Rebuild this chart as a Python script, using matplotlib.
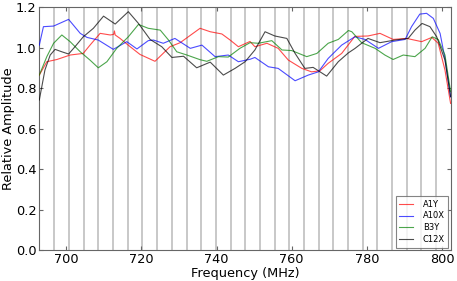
import numpy as np
import matplotlib
matplotlib.use('Agg')
import matplotlib.pyplot as plt

# readings, frequency in MHz
a1y_f = [692.8, 694.8, 697.5, 701.0, 704.5, 706.3, 709.0, 711.7, 712.6, 712.8, 713.0, 714.3, 717.0,
         719.6, 723.6, 727.6, 730.3, 735.6, 738.3, 741.4, 743.6, 745.8, 748.9, 750.2, 753.4,
         756.4, 759.1, 762.7, 765.3, 767.5, 769.7, 773.3, 776.8, 780.3, 783.5, 787.0, 790.6,
         794.6, 797.3, 799.0, 800.8, 802.3]
a1y = [0.864, 0.930, 0.941, 0.963, 0.971, 1.012, 1.070, 1.062, 1.065, 1.082, 1.062, 1.045, 1.004,
       0.966, 0.932, 1.004, 1.024, 1.095, 1.078, 1.067, 1.037, 1.004, 1.030, 1.004, 1.021,
       0.996, 0.938, 0.897, 0.880, 0.885, 0.922, 0.971, 1.055, 1.057, 1.070, 1.040, 1.045,
       1.029, 1.050, 1.021, 0.889, 0.724]

a10x_f = [692.8, 693.9, 696.6, 700.6, 703.7, 705.5, 708.5, 712.5, 716.1, 718.8, 721.8, 723.2,
          725.8, 728.9, 733.0, 736.1, 739.6, 743.1, 745.8, 748.9, 750.2, 753.8, 756.4, 760.9,
          764.4, 767.1, 769.7, 773.3, 776.8, 779.5, 783.1, 786.6, 790.2, 791.9, 794.1, 795.9,
          797.7, 799.5, 800.8, 802.3]
a10x = [1.012, 1.103, 1.106, 1.139, 1.070, 1.050, 1.037, 0.991, 1.029, 0.993, 1.034, 1.037,
        1.021, 1.045, 0.996, 1.012, 0.955, 0.963, 0.930, 0.942, 0.951, 0.905, 0.897, 0.836,
        0.864, 0.880, 0.946, 1.012, 1.053, 1.040, 0.996, 1.029, 1.040, 1.103, 1.165, 1.169,
        1.144, 1.070, 0.946, 0.757]

b3y_f = [692.8, 694.8, 696.6, 698.8, 701.0, 703.7, 706.3, 708.5, 710.8, 713.4, 716.5, 719.2,
         721.8, 725.0, 727.2, 729.4, 732.1, 735.6, 737.4, 740.5, 743.1, 746.2, 748.9, 751.1,
         754.7, 757.4, 760.0, 764.0, 766.7, 769.7, 772.4, 775.1, 776.0, 778.6, 782.2, 784.8,
         787.0, 789.7, 792.8, 795.5, 797.4, 799.0, 800.8, 802.3]
b3y = [0.864, 0.955, 1.021, 1.062, 1.029, 0.979, 0.938, 0.900, 0.930, 0.996, 1.053, 1.114,
       1.095, 1.086, 1.037, 0.979, 0.963, 0.940, 0.932, 0.955, 0.953, 0.996, 1.024, 1.021,
       1.034, 0.988, 0.985, 0.955, 0.971, 1.021, 1.040, 1.084, 1.078, 1.024, 0.996, 0.963,
       0.941, 0.963, 0.955, 0.996, 1.053, 1.040, 0.963, 0.782]

c12x_f = [692.8, 694.3, 695.7, 697.0, 698.8, 700.6, 702.3, 704.5, 707.2, 709.9, 713.0, 716.5,
          719.2, 722.3, 725.4, 728.1, 731.2, 734.7, 738.3, 741.8, 744.9, 747.6, 750.2, 752.9,
          755.5, 758.7, 760.9, 763.5, 765.7, 769.3, 772.4, 775.1, 776.8, 780.3, 783.5, 787.5,
          791.0, 792.8, 794.7, 796.8, 798.6, 800.8, 802.3]
c12x = [0.741, 0.889, 0.963, 0.991, 0.979, 0.968, 1.004, 1.053, 1.095, 1.155, 1.116, 1.177,
        1.119, 1.040, 1.004, 0.951, 0.957, 0.900, 0.928, 0.864, 0.897, 0.930, 0.988, 1.078,
        1.057, 1.045, 0.971, 0.897, 0.902, 0.859, 0.930, 0.974, 0.995, 1.045, 1.024, 1.037,
        1.045, 1.086, 1.119, 1.103, 1.053, 0.938, 0.757]

channel_edges = [696.8 + 3.91 * k for k in range(27)]

fig = plt.figure(figsize=(4.57, 2.81), dpi=100)
ax = fig.add_axes([0.086, 0.110, 0.900, 0.865])

for e in channel_edges:
    ax.axvline(e, color='#c4c4c4', linewidth=1.3, zorder=1)

ax.plot(a1y_f, a1y, color='red', lw=0.8, alpha=0.7, label='A1Y', zorder=3)
ax.plot(a10x_f, a10x, color='blue', lw=0.8, alpha=0.7, label='A10X', zorder=3)
ax.plot(b3y_f, b3y, color='green', lw=0.8, alpha=0.7, label='B3Y', zorder=3)
ax.plot(c12x_f, c12x, color='black', lw=0.8, alpha=0.7, label='C12X', zorder=3)

ax.set_xlim(692.8, 802.3)
ax.set_ylim(0.0, 1.2)
ax.set_xticks([700, 720, 740, 760, 780, 800])
ax.set_yticks([0.0, 0.2, 0.4, 0.6, 0.8, 1.0, 1.2])
ax.tick_params(direction='in', top=True, right=True, labelsize=9.3, length=3,
               color='0.4', pad=2)
for s in ax.spines.values():
    s.set_color('0.4')
ax.set_xlabel('Frequency (MHz)', fontsize=9.3, labelpad=0.5)
ax.set_ylabel('Relative Amplitude', fontsize=9.3, labelpad=1)

leg = ax.legend(loc='lower right', fontsize=6, handlelength=1.6, borderaxespad=0.3,
                fancybox=False, edgecolor='0.4', labelspacing=0.35, handletextpad=1.2)
leg.get_frame().set_linewidth(0.8)

fig.savefig('out.png', dpi=100)
plt.close(fig)
